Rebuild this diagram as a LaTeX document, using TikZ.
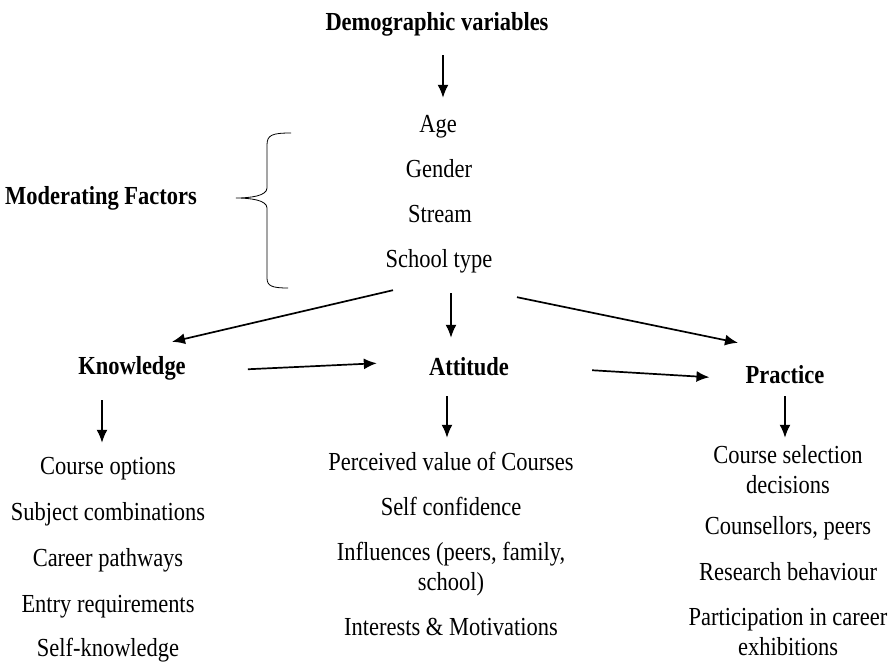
\documentclass[tikz,border=0pt]{standalone}
\usepackage{fontspec}
\setmainfont{Liberation Serif}[FakeStretch=0.865]
\usepackage{tikz}
\usetikzlibrary{arrows.meta}

\begin{document}
\begin{tikzpicture}[x=1pt, y=-1pt,
        txt/.style={font=\fontsize{26}{30}\selectfont, inner sep=0pt, text height=17pt, text depth=5.5pt, anchor=base},
        txtb/.style={txt, font=\fontsize{26}{30}\selectfont\bfseries},
        twoline/.style={font=\fontsize{26}{30}\selectfont, inner sep=0pt, align=center, anchor=base},
        arr/.style={-{Latex[length=13pt,width=11pt]}, line width=1.7pt}]
                \useasboundingbox (0,0) rectangle (891,661);
                \node[txtb] (demo) at (437,31) {Demographic variables};
                \node[txt] (age) at (438,132) {Age};
                \node[txt] (gender) at (439,177.5) {Gender};
                \node[txt] (stream) at (440,222.5) {Stream};
                \node[txt] (stype) at (439,267.5) {School type};
                \node[txtb] (modf) at (101,204) {Moderating Factors};
                \draw[line width=0.8pt] (291,133) .. controls (272,133) and (267,135) .. (267,145) -- (267,188)
                    .. controls (267,196) and (250,198) .. (236,198) .. controls (250,198) and (267,200) .. (267,208)
                    -- (267,278) .. controls (267,286) and (272,288) .. (288,288);
                \node[txtb] (know) at (132,374) {Knowledge};
                \node[txtb] (att) at (469,375) {Attitude};
                \node[txtb] (prac) at (785,383) {Practice};
                \node[txt] (copt) at (108,474) {Course options};
                \node[txt] (scomb) at (108,520) {Subject combinations};
                \node[txt] (cpath) at (108,566) {Career pathways};
                \node[txt] (entry) at (108,612) {Entry requirements};
                \node[txt] (selfk) at (108,656) {Self-knowledge};
                \node[txt] (pval) at (451,470) {Perceived value of Courses};
                \node[txt] (sconf) at (451,515) {Self confidence};
                \node[twoline] (infl) at (451,590) {Influences (peers, family,\\school)};
                \node[txt] (intm) at (451,635) {Interests \& Motivations};
                \node[twoline] (csel) at (788,493) {Course selection\\decisions};
                \node[txt] (couns) at (788,534) {Counsellors, peers};
                \node[txt] (resb) at (788,580) {Research behaviour};
                \node[twoline] (part) at (788,655) {Participation in career\\exhibitions};
                \draw[arr] ([xshift=6pt,yshift=-18.5pt]demo.south) -- ([xshift=5pt,yshift=17pt]age.north);
                \draw[arr] ([xshift=-46pt,yshift=-17pt]stype.south) -- ([xshift=40pt,yshift=15pt]know.north);
                \draw[arr] ([xshift=12pt,yshift=-20pt]stype.south) -- ([xshift=-18pt,yshift=20pt]att.north);
                \draw[arr] ([xshift=78pt,yshift=-24pt]stype.south) -- ([xshift=-47pt,yshift=23pt]prac.north);
                \draw[arr] ([xshift=62pt,yshift=-1pt]know.east) -- ([xshift=-52pt,yshift=6pt]att.west);
                \draw[arr] ([xshift=83pt,yshift=-1pt]att.east) -- ([xshift=-36pt,yshift=0pt]prac.west);
                \draw[arr] ([xshift=-30pt,yshift=-20.5pt]know.south) -- ([xshift=-6pt,yshift=14pt]copt.north);
                \draw[arr] ([xshift=-22pt,yshift=-15.5pt]att.south) -- ([xshift=-4pt,yshift=15pt]pval.north);
                \draw[arr] ([yshift=-7.5pt]prac.south) -- ([xshift=-3pt,yshift=7pt]csel.north);
            \end{tikzpicture}
\end{document}
